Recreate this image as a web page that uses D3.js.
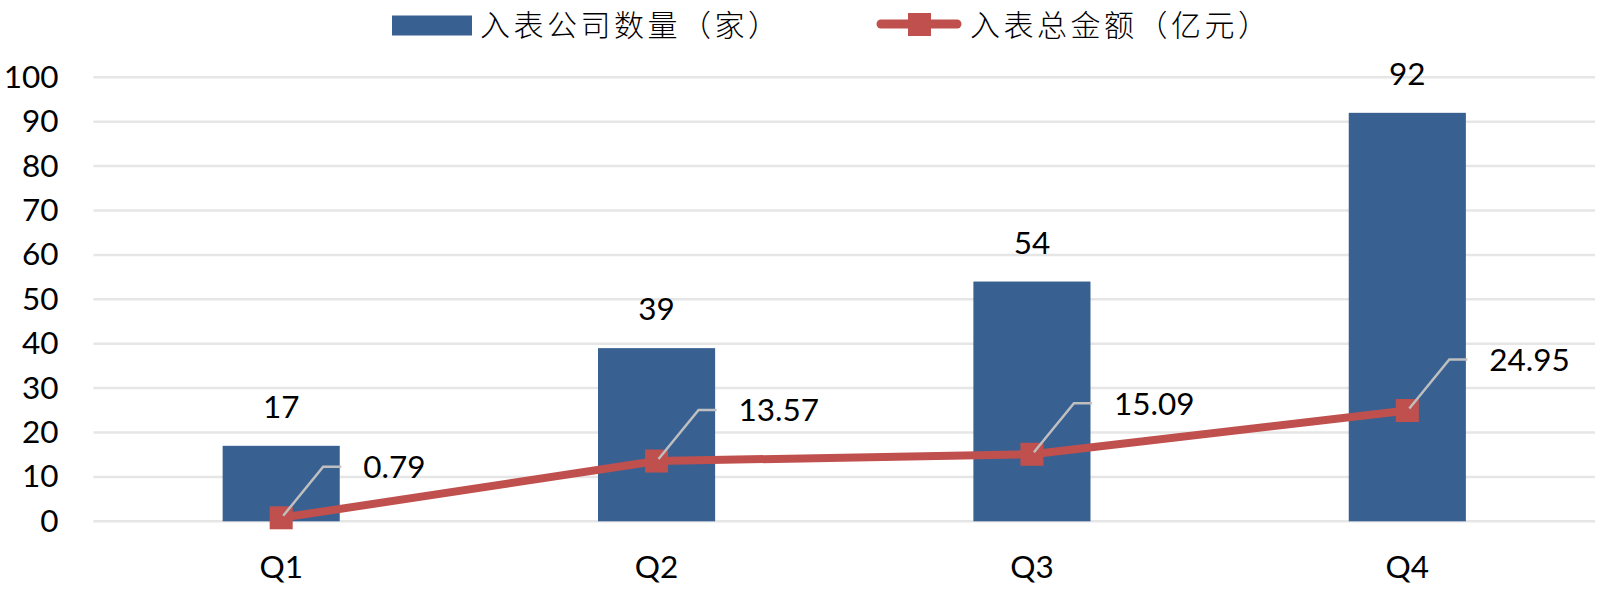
<!DOCTYPE html>
<html>
<head>
<meta charset="utf-8">
<script src="https://cdn.jsdelivr.net/npm/d3@7"></script>
<style>
  html, body { margin: 0; padding: 0; background: #fff; }
  svg { display: block; }
</style>
</head>
<body>
<svg id="chart" width="1600" height="591"></svg>
<script>
// ---- data ----
const categories = ["Q1", "Q2", "Q3", "Q4"];
const companyCount = [17, 39, 54, 92];          // 入表公司数量（家）
const totalAmount = [0.79, 13.57, 15.09, 24.95]; // 入表总金额（亿元）
const yTicks = [0, 10, 20, 30, 40, 50, 60, 70, 80, 90, 100];
const seriesNames = ["入表公司数量（家）", "入表总金额（亿元）"];

(function () {
// ---- layout ----
const plotLeft = 93.5, plotRight = 1595, plotTop = 77.3, plotBottom = 521.3;
const barColor = "#386192";
const lineColor = "#C0504D";
const gridColor = "#E6E6E6";
const numFont = "Lato, 'Open Sans', 'Noto Sans', sans-serif";
const cjkFont = "'Noto Sans CJK SC', 'Noto Sans', sans-serif";

const svg = d3.select("#chart");

const x = d3.scaleBand().domain(categories).range([plotLeft, plotRight]).paddingInner(0.688).paddingOuter(0.344);
const y = d3.scaleLinear().domain([0, 100]).range([plotBottom, plotTop]);

// gridlines
svg.append("g").selectAll("line").data(yTicks).join("line")
  .attr("x1", plotLeft).attr("x2", plotRight)
  .attr("y1", d => y(d)).attr("y2", d => y(d))
  .attr("stroke", gridColor).attr("stroke-width", 2.5);

// y axis labels via d3 axis
const yAxis = svg.append("g").attr("transform", `translate(${plotLeft},0)`)
  .call(d3.axisLeft(y).tickValues(yTicks).tickSize(0).tickPadding(35));
yAxis.select(".domain").remove();
yAxis.selectAll("text").attr("font-family", numFont).attr("font-size", 31.5).attr("fill", "#000");

// x axis labels
const xAxis = svg.append("g").attr("transform", `translate(0,${plotBottom})`)
  .call(d3.axisBottom(x).tickSize(0).tickPadding(34));
xAxis.select(".domain").remove();
xAxis.selectAll("text").attr("font-family", numFont).attr("font-size", 31.5).attr("fill", "#000");

// bars
const cx = d => x(d) + x.bandwidth() / 2;
svg.append("g").selectAll("rect").data(categories).join("rect")
  .attr("x", d => x(d)).attr("width", x.bandwidth())
  .attr("y", (d, i) => y(companyCount[i]))
  .attr("height", (d, i) => y(0) - y(companyCount[i]))
  .attr("fill", barColor);

// bar value labels
svg.append("g").selectAll("text").data(categories).join("text")
  .attr("x", d => cx(d))
  .attr("y", (d, i) => y(companyCount[i]) - 28)
  .attr("text-anchor", "middle")
  .attr("font-family", numFont).attr("font-size", 31.5).attr("fill", "#000")
  .text((d, i) => companyCount[i]);

const pts = categories.map((c, i) => ({ c, v: totalAmount[i], px: cx(c), py: y(totalAmount[i]) }));

// line
const line = d3.line().x(p => p.px).y(p => p.py);
svg.append("path").datum(pts)
  .attr("d", line)
  .attr("fill", "none").attr("stroke", lineColor).attr("stroke-width", 8)
  .attr("stroke-linejoin", "round").attr("stroke-linecap", "round");

// markers
const ms = 23;
svg.append("g").selectAll("rect").data(pts).join("rect")
  .attr("x", p => p.px - ms / 2).attr("y", p => p.py - ms / 2)
  .attr("width", ms).attr("height", ms)
  .attr("fill", lineColor);

// leader lines (on top of markers)
svg.append("g").selectAll("path").data(pts).join("path")
  .attr("d", p => `M${p.px + 2},${p.py - 2} L${p.px + 42},${p.py - 51} L${p.px + 60},${p.py - 51}`)
  .attr("fill", "none").attr("stroke", "#BFBFBF").attr("stroke-width", 2.5);

// line value labels
svg.append("g").selectAll("text").data(pts).join("text")
  .attr("x", p => p.px + 82)
  .attr("y", p => p.py - 51)
  .attr("dy", "0.36em")
  .attr("font-family", numFont).attr("font-size", 31.5).attr("fill", "#000")
  .text(p => p.v.toFixed(2));

// legend
const lg = svg.append("g");
lg.append("rect").attr("x", 392).attr("y", 15.5).attr("width", 80).attr("height", 20).attr("fill", barColor);
lg.append("text").attr("x", 480).attr("y", 35.5)
  .attr("font-family", cjkFont).attr("font-size", 30).attr("letter-spacing", 3.5)
  .attr("font-weight", 300).attr("fill", "#000")
  .text(seriesNames[0]);
lg.append("line").attr("x1", 881).attr("x2", 957).attr("y1", 24).attr("y2", 24)
  .attr("stroke", lineColor).attr("stroke-width", 9).attr("stroke-linecap", "round");
lg.append("rect").attr("x", 908).attr("y", 13).attr("width", 23).attr("height", 23).attr("fill", lineColor);
lg.append("text").attr("x", 970).attr("y", 35.5)
  .attr("font-family", cjkFont).attr("font-size", 30).attr("letter-spacing", 3.5)
  .attr("font-weight", 300).attr("fill", "#000")
  .text(seriesNames[1]);
})();
</script>
</body>
</html>
